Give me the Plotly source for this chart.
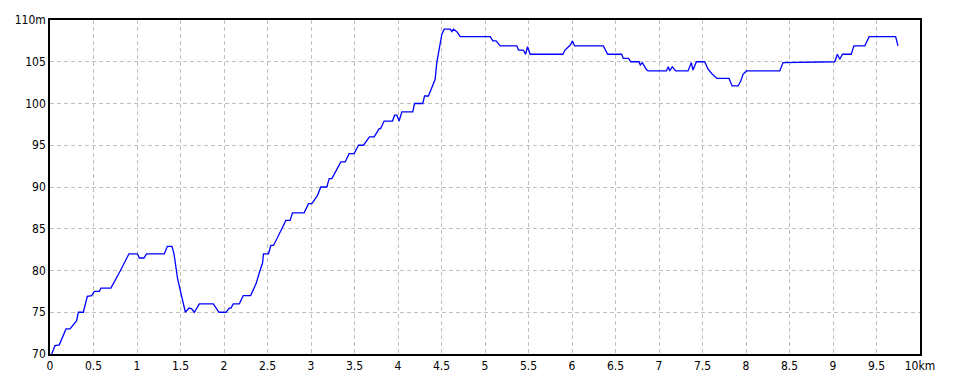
import plotly.graph_objects as go

dist_km = [0.02, 0.057, 0.107, 0.184, 0.23, 0.306, 0.326, 0.383, 0.429, 0.479,
           0.51, 0.567, 0.586, 0.70, 0.81, 0.908, 1.004, 1.027, 1.08, 1.11,
           1.314, 1.349, 1.402, 1.425, 1.467, 1.513, 1.556, 1.598, 1.628, 1.659,
           1.716, 1.877, 1.943, 2.023, 2.06, 2.08, 2.107, 2.176, 2.222, 2.306,
           2.368, 2.414, 2.443, 2.454, 2.511, 2.538, 2.569, 2.665, 2.711, 2.76,
           2.787, 2.921, 2.971, 3.01, 3.075, 3.113, 3.182, 3.209, 3.24, 3.343,
           3.393, 3.439, 3.496, 3.546, 3.603, 3.672, 3.726, 3.784, 3.80, 3.841,
           3.937, 3.96, 3.987, 4.013, 4.044, 4.17, 4.19, 4.285, 4.305, 4.35,
           4.389, 4.427, 4.446, 4.473, 4.504, 4.531, 4.6, 4.619, 4.638, 4.676,
           4.715, 5.06, 5.09, 5.128, 5.174, 5.366, 5.385, 5.44, 5.466, 5.489,
           5.519, 5.895, 5.92, 5.98, 6.006, 6.03, 6.36, 6.41, 6.57, 6.59,
           6.65, 6.676, 6.77, 6.785, 6.808, 6.854, 6.873, 7.084, 7.107, 7.123,
           7.153, 7.192, 7.334, 7.372, 7.39, 7.43, 7.525, 7.564, 7.613, 7.667,
           7.805, 7.84, 7.909, 7.94, 7.966, 8.005, 8.388, 8.426, 9.02, 9.05,
           9.078, 9.109, 9.21, 9.24, 9.366, 9.416, 9.72, 9.747]

elev_m = [70.0, 71.0, 71.1, 73.0, 73.0, 74.0, 75.0, 75.0, 76.9, 77.0,
          77.5, 77.5, 77.9, 77.9, 80.0, 82.0, 82.0, 81.5, 81.5, 82.0,
          82.0, 82.9, 82.9, 82.0, 79.0, 76.8, 75.0, 75.5, 75.4, 75.0,
          76.0, 76.0, 75.0, 75.0, 75.5, 75.5, 76.0, 76.0, 77.0, 77.0,
          78.4, 80.0, 80.9, 82.0, 82.0, 83.0, 83.0, 85.0, 86.0, 86.0,
          86.9, 86.9, 88.0, 88.0, 89.0, 90.0, 90.0, 91.0, 91.0, 93.0,
          93.0, 94.0, 94.0, 95.0, 95.0, 96.0, 96.0, 97.0, 97.0, 97.9,
          97.9, 98.6, 98.6, 97.9, 99.0, 99.0, 100.0, 100.0, 100.9, 100.9,
          101.9, 102.9, 104.9, 106.5, 108.3, 108.9, 108.9, 108.6, 108.9, 108.6,
          108.0, 108.0, 107.5, 107.5, 106.9, 106.9, 106.4, 106.4, 105.9, 106.8,
          105.9, 105.9, 106.4, 107.0, 107.5, 106.9, 106.9, 105.9, 105.9, 105.4,
          105.4, 105.0, 105.0, 104.6, 104.9, 104.1, 103.9, 103.9, 104.4, 103.9,
          104.4, 103.9, 103.9, 104.9, 104.0, 105.0, 105.0, 104.1, 103.5, 103.0,
          103.0, 102.1, 102.1, 102.7, 103.5, 103.9, 103.9, 104.9, 105.0, 105.9,
          105.3, 105.9, 105.9, 106.9, 106.9, 108.0, 108.0, 106.9]

x_ticks = [0, 0.5, 1, 1.5, 2, 2.5, 3, 3.5, 4, 4.5, 5, 5.5, 6, 6.5, 7, 7.5, 8, 8.5, 9, 9.5, 10]
x_labels = ["0", "0.5", "1", "1.5", "2", "2.5", "3", "3.5", "4", "4.5", "5", "5.5",
            "6", "6.5", "7", "7.5", "8", "8.5", "9", "9.5", "10km"]
y_ticks = [70, 75, 80, 85, 90, 95, 100, 105, 110]
y_labels = ["70", "75", "80", "85", "90", "95", "100", "105", "110m"]

fig = go.Figure()
fig.add_trace(go.Scatter(x=dist_km, y=elev_m, mode="lines",
                         line=dict(color="#0000ff", width=1.3),
                         hoverinfo="skip", showlegend=False))

font = dict(family="Liberation Sans Narrow, DejaVu Sans Condensed, Liberation Sans, sans-serif",
            size=12, color="#000000")

fig.update_layout(
    width=960, height=384,
    margin=dict(l=50, r=40, t=20, b=30),
    paper_bgcolor="#ffffff", plot_bgcolor="#ffffff",
    font=font,
    xaxis=dict(range=[0, 10], tickvals=x_ticks, ticktext=x_labels,
               showgrid=True, gridcolor="#c0c0c0", griddash="4px,3px", gridwidth=1,
               showline=True, linecolor="#000000", linewidth=1.5, mirror=True,
               ticks="", zeroline=False, fixedrange=True, tickangle=0),
    yaxis=dict(range=[70, 110], tickvals=y_ticks, ticktext=y_labels,
               showgrid=True, gridcolor="#c0c0c0", griddash="4px,3px", gridwidth=1,
               showline=True, linecolor="#000000", linewidth=1.5, mirror=True,
               ticks="", zeroline=False, fixedrange=True),
)

fig.write_html("out.html")
